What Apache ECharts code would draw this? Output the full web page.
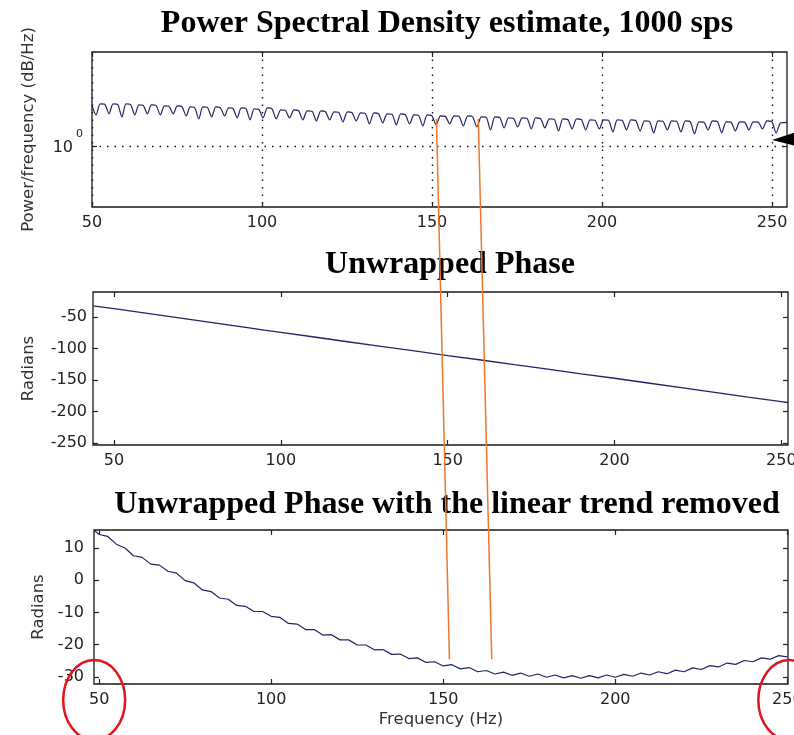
<!DOCTYPE html>
<html>
<head>
<meta charset="utf-8">
<title>PSD and unwrapped phase</title>
<script src="https://cdn.jsdelivr.net/npm/echarts@6/dist/echarts.min.js"></script>
<style>
  html, body { margin: 0; padding: 0; background: #fff; }
  #chart { width: 794px; height: 735px; }
</style>
</head>
<body>
<div id="chart"></div>
<script>
// tick values for the three panels
const freqTicks = [50, 100, 150, 200, 250]
const psdTicks = [1]
const phaseTicks = [-250, -200, -150, -100, -50]
const detrendTicks = [-30, -20, -10, 0, 10]

// PSD, [Hz, power] (scalloped ripple)
const psdPower = [
  [50.0, 1.830],
  [51.2, 1.594], [52.4, 1.882], [53.7, 1.875],
  [55.0, 1.619], [56.2, 1.882], [57.5, 1.870],
  [58.8, 1.547], [60.0, 1.882], [61.3, 1.866],
  [62.6, 1.594], [63.8, 1.854], [65.0, 1.845],
  [66.3, 1.619], [67.5, 1.854], [68.8, 1.840],
  [70.1, 1.594], [71.3, 1.826], [72.6, 1.815],
  [73.9, 1.619], [75.1, 1.826], [76.4, 1.810],
  [77.7, 1.571], [78.9, 1.798], [80.1, 1.790],
  [81.4, 1.501], [82.6, 1.798], [83.9, 1.785],
  [85.2, 1.547], [86.4, 1.798], [87.7, 1.780],
  [89.0, 1.571], [90.2, 1.772], [91.4, 1.760],
  [92.7, 1.524], [93.9, 1.772], [95.2, 1.760],
  [96.5, 1.479], [97.7, 1.745], [99.0, 1.735],
  [100.3, 1.524], [101.6, 1.772], [102.9, 1.750],
  [104.2, 1.501], [105.5, 1.719], [106.8, 1.710],
  [108.1, 1.524], [109.4, 1.719], [110.7, 1.705],
  [112.0, 1.479], [113.3, 1.693], [114.7, 1.685],
  [116.0, 1.457], [117.3, 1.693], [118.6, 1.680],
  [119.9, 1.479], [121.2, 1.668], [122.5, 1.660],
  [123.8, 1.435], [125.1, 1.668], [126.4, 1.655],
  [127.7, 1.457], [129.0, 1.643], [130.3, 1.635],
  [131.6, 1.393], [132.9, 1.643], [134.2, 1.630],
  [135.5, 1.413], [136.8, 1.619], [138.2, 1.610],
  [139.5, 1.372], [140.8, 1.619], [142.1, 1.605],
  [143.4, 1.393], [144.7, 1.594], [146.0, 1.585],
  [147.3, 1.351], [148.6, 1.594], [149.9, 1.580],
  [151.2, 1.372], [152.5, 1.571], [153.9, 1.560],
  [155.2, 1.393], [156.5, 1.571], [157.9, 1.560],
  [159.2, 1.351], [160.5, 1.571], [161.9, 1.555],
  [163.2, 1.331], [164.5, 1.547], [165.9, 1.540],
  [167.2, 1.272], [168.5, 1.547], [169.9, 1.535],
  [171.2, 1.311], [172.5, 1.524], [173.9, 1.515],
  [175.2, 1.331], [176.5, 1.524], [177.9, 1.515],
  [179.2, 1.291], [180.5, 1.524], [181.9, 1.510],
  [183.2, 1.311], [184.5, 1.501], [185.9, 1.495],
  [187.2, 1.253], [188.5, 1.501], [189.9, 1.490],
  [191.2, 1.291], [192.5, 1.501], [193.9, 1.490],
  [195.2, 1.272], [196.5, 1.479], [197.9, 1.470],
  [199.2, 1.291], [200.5, 1.479], [201.9, 1.470],
  [203.2, 1.234], [204.5, 1.479], [205.9, 1.470],
  [207.2, 1.272], [208.5, 1.479], [209.9, 1.465],
  [211.2, 1.253], [212.5, 1.457], [213.9, 1.450],
  [215.2, 1.216], [216.5, 1.457], [217.9, 1.450],
  [219.2, 1.272], [220.5, 1.457], [221.9, 1.450],
  [223.2, 1.234], [224.5, 1.457], [225.9, 1.445],
  [227.2, 1.198], [228.5, 1.435], [229.9, 1.430],
  [231.2, 1.272], [232.5, 1.457], [233.9, 1.445],
  [235.2, 1.216], [236.5, 1.435], [237.9, 1.430],
  [239.2, 1.253], [240.5, 1.435], [241.9, 1.430],
  [243.2, 1.272], [244.5, 1.435], [245.9, 1.430],
  [247.2, 1.291], [248.5, 1.457], [249.9, 1.445],
  [251.2, 1.216], [252.5, 1.413], [253.8, 1.420],
  [254.4, 1.435]
]

// unwrapped phase, [Hz, rad]
const phaseRad = [
  [43.7, -32.0], [50, -36.5], [60, -44.0], [70, -51.5], [80, -59.0],
  [90, -66.5], [95, -70.5], [100, -74.0], [110, -81.5], [120, -89.0],
  [130, -96.5], [140, -103.5], [150, -111.0], [160, -118.0], [170, -125.5],
  [180, -132.5], [190, -140.0], [200, -147.0], [210, -154.5], [220, -162.0],
  [230, -169.5], [240, -177.0], [250, -184.0], [252, -185.5]
]

// phase with linear trend removed, [Hz, rad]
const detrendRad = [
  [48.5, 15.5], [50, 14.2], [52.5, 13.6], [55, 11.2], [57.5, 10.0],
  [60, 7.6], [62.5, 7.1], [65, 5.0], [67.5, 4.7], [70, 2.8],
  [72.5, 2.2], [75, -0.1], [77.5, -0.8], [80, -3.0], [82.5, -3.5],
  [85, -5.5], [87.5, -5.9], [90, -7.8], [92.5, -8.1], [95, -9.7],
  [97.5, -9.7], [100, -11.2], [102.5, -11.5], [105, -13.4], [107.5, -13.6],
  [110, -15.3], [112.5, -15.3], [115, -17.0], [117.5, -16.9], [120, -18.5],
  [122.5, -18.5], [125, -20.1], [127.5, -20.1], [130, -21.6], [132.5, -21.5],
  [135, -23.0], [137.5, -22.9], [140, -24.3], [142.5, -24.1], [145, -25.5],
  [147.5, -25.3], [150, -26.6], [152.5, -26.2], [155, -27.5], [157.5, -27.1],
  [160, -28.4], [162.5, -28.0], [165, -29.1], [167.5, -28.5], [170, -29.5],
  [172.5, -28.8], [175, -29.8], [177.5, -29.1], [180, -30.1], [182.5, -29.4],
  [185, -30.3], [187.5, -29.6], [190, -30.4], [192.5, -29.6], [195, -30.3],
  [197.5, -29.4], [200, -30.1], [202.5, -29.2], [205, -29.8], [207.5, -28.8],
  [210, -29.4], [212.5, -28.4], [215, -29.0], [217.5, -27.9], [220, -28.4],
  [222.5, -27.2], [225, -27.7], [227.5, -26.5], [230, -26.9], [232.5, -25.7],
  [235, -26.1], [237.5, -24.9], [240, -25.3], [242.5, -24.1], [245, -24.5],
  [247.5, -23.4], [250, -23.8]
]

// annotations: orange guides between top and bottom plots, red rings, arrow
const guideTopHz = [151.3, 163.6]
const guideBottomHz = [151.8, 164.1]
const guideTopPower = 1.50
const guideBottomRad = -24.5
const ringHz = [50, 250]
const arrowAt = [250, 1.094]

const tickFont = { fontFamily: 'DejaVu Sans', fontSize: 16, color: '#222' }
const nameFont = { fontFamily: 'DejaVu Sans', fontSize: 16.5, color: '#333' }
const titleFont = { fontFamily: 'Liberation Serif', fontWeight: 'bold', fontSize: 32, color: '#000' }
const dotted = { color: '#111', width: 1.4, type: [1.5, 6] }
const tickStyle = { color: '#222', width: 1.2 }
const lineColor = '#232366'

function axisPair(kind, gridIndex, min, max, ticks, main) {
  const base = {
    type: 'value',
    gridIndex,
    min,
    max,
    axisLine: { show: false, onZero: false },
    axisTick: { inside: true, length: 5, customValues: ticks, lineStyle: tickStyle },
    splitLine: { show: false },
  }
  const first = Object.assign({}, base, {
    position: kind === 'x' ? 'bottom' : 'left',
    axisLabel: Object.assign({ customValues: ticks, margin: 8 }, tickFont),
  }, main)
  const mirror = Object.assign({}, base, {
    position: kind === 'x' ? 'top' : 'right',
    axisLabel: { show: false },
  })
  return [first, mirror]
}

const xAxis = [
  ...axisPair('x', 0, 50, 254.4, freqTicks, { splitLine: { show: true, lineStyle: dotted } }),
  ...axisPair('x', 1, 43.7, 252, freqTicks, {}),
  ...axisPair('x', 2, 48.5, 250.2, freqTicks, {
    name: 'Frequency (Hz)', nameLocation: 'middle', nameGap: 27, nameTextStyle: nameFont,
  }),
]

const psdAxes = axisPair('y', 0, 0.4, 4.1, psdTicks, {
  name: 'Power/frequency (dB/Hz)', nameLocation: 'middle', nameGap: 55, nameTextStyle: nameFont,
  splitLine: { show: true, lineStyle: dotted },
  axisLabel: {
    customValues: psdTicks,
    margin: 9,
    padding: [0, 0, 8, 0],
    formatter: v => (v === 1 ? '{b|10}{s|0}' : ''),
    rich: {
      b: Object.assign({ lineHeight: 27, verticalAlign: 'bottom' }, tickFont),
      s: { fontFamily: 'DejaVu Sans', fontSize: 11, color: '#222', lineHeight: 12, verticalAlign: 'top', padding: [0, 0, 0, 3] },
    },
  },
})
psdAxes.forEach(a => { a.type = 'log'; a.logBase = 10 })

const yAxis = [
  ...psdAxes,
  ...axisPair('y', 1, -253, -10, phaseTicks, {
    name: 'Radians', nameLocation: 'middle', nameGap: 56, nameTextStyle: nameFont,
    axisLabel: Object.assign({ customValues: phaseTicks, margin: 6 }, tickFont),
  }),
  ...axisPair('y', 2, -32.2, 15.6, detrendTicks, {
    name: 'Radians', nameLocation: 'middle', nameGap: 46, nameTextStyle: nameFont,
    axisLabel: Object.assign({ customValues: detrendTicks, margin: 10 }, tickFont),
  }),
]

const gridBox = {
  show: true, borderColor: '#1a1a1a', borderWidth: 1.3, backgroundColor: 'transparent',
  containLabel: false, outerBoundsMode: 'none',
}

const option = {
  backgroundColor: '#fff',
  animation: false,
  title: [
    { text: 'Power Spectral Density estimate, 1000 sps', left: 447, top: 8, textAlign: 'center', padding: 0, textStyle: titleFont },
    { text: 'Unwrapped Phase', left: 450, top: 249, textAlign: 'center', padding: 0, textStyle: titleFont },
    { text: 'Unwrapped Phase with the linear trend removed', left: 447, top: 489, textAlign: 'center', padding: 0, textStyle: titleFont },
  ],
  grid: [
    Object.assign({ left: 92, top: 52, width: 695, height: 155 }, gridBox),
    Object.assign({ left: 93, top: 292, width: 695, height: 153 }, gridBox),
    Object.assign({ left: 94, top: 530, width: 694, height: 154 }, gridBox),
  ],
  xAxis,
  yAxis,
  series: [
    {
      type: 'line', xAxisIndex: 0, yAxisIndex: 0, data: psdPower,
      symbol: 'none', smooth: 0.25, lineStyle: { color: lineColor, width: 1.2 },
    },
    {
      type: 'line', xAxisIndex: 2, yAxisIndex: 2, data: phaseRad,
      symbol: 'none', lineStyle: { color: lineColor, width: 1.3 },
    },
    {
      type: 'line', xAxisIndex: 4, yAxisIndex: 4, data: detrendRad,
      symbol: 'none', lineStyle: { color: lineColor, width: 1.2 },
    },
  ],
}

const chart = echarts.init(document.getElementById('chart'), null, { renderer: 'canvas' })
chart.setOption(option)

// annotations are placed from data values through the axes
const toPx = (idx, pt) => chart.convertToPixel({ xAxisIndex: idx, yAxisIndex: idx }, pt)
const graphic = []

guideTopHz.forEach((hz, i) => {
  const a = toPx(0, [hz, guideTopPower])
  const b = toPx(4, [guideBottomHz[i], guideBottomRad])
  graphic.push({
    type: 'line', z: 100,
    shape: { x1: a[0], y1: a[1], x2: b[0], y2: b[1] },
    style: { stroke: '#f0782a', lineWidth: 1.5 },
  })
})

const ringY = toPx(4, [50, -32.2])[1] + 16
ringHz.forEach((hz, i) => {
  const cx = toPx(4, [hz, 0])[0] + (i === 0 ? -5 : 2)
  graphic.push({
    type: 'ellipse', z: 100,
    shape: { cx, cy: ringY, rx: 31, ry: 40 },
    style: { fill: 'none', stroke: '#e3141b', lineWidth: 2.5 },
  })
})

const tip = toPx(0, arrowAt)
graphic.push({
  type: 'polygon', z: 100,
  shape: { points: [tip, [tip[0] + 24, tip[1] - 8], [tip[0] + 24, tip[1] + 6]] },
  style: { fill: '#000' },
})

chart.setOption({ graphic })
</script>
</body>
</html>
